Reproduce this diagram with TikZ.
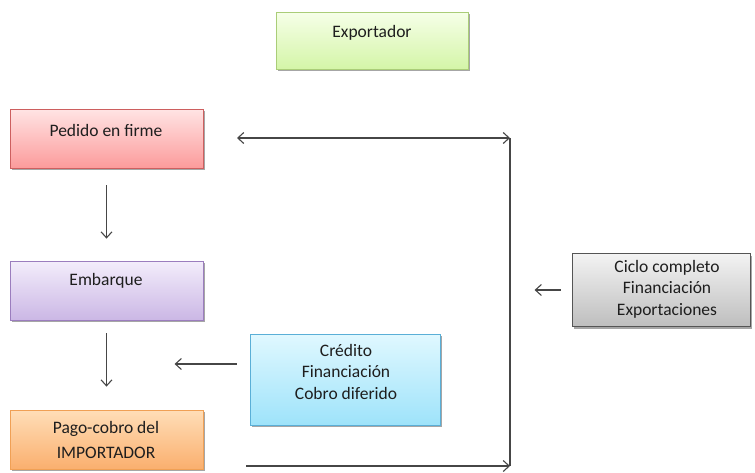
\documentclass[tikz,border=0pt]{standalone}
\usepackage{fontspec}
\setmainfont{Carlito}
\usetikzlibrary{arrows.meta,shadows}

\definecolor{edgegray}{RGB}{85,85,85}
\definecolor{arrowgray}{RGB}{70,70,70}

\tikzset{
  box/.style={draw, line width=0.8pt, inner sep=0pt, shading=axis, shading angle=0,
    drop shadow={shadow xshift=1.5pt, shadow yshift=-2pt, opacity=0.35, fill=black}},
  greenbox/.style={box, draw={rgb,255:red,170;green,205;blue,120},
    top color={rgb,255:red,246;green,255;blue,232}, bottom color={rgb,255:red,212;green,245;blue,168}},
  pinkbox/.style={box, draw={rgb,255:red,205;green,95;blue,95},
    top color={rgb,255:red,255;green,228;blue,228}, bottom color={rgb,255:red,252;green,155;blue,155}},
  purplebox/.style={box, draw={rgb,255:red,155;green,125;blue,190},
    top color={rgb,255:red,243;green,237;blue,251}, bottom color={rgb,255:red,203;green,183;blue,229}},
  orangebox/.style={box, draw={rgb,255:red,240;green,160;blue,85},
    top color={rgb,255:red,255;green,222;blue,184}, bottom color={rgb,255:red,250;green,175;blue,110}},
  cyanbox/.style={box, draw={rgb,255:red,90;green,175;blue,215},
    top color={rgb,255:red,224;green,248;blue,255}, bottom color={rgb,255:red,158;green,227;blue,250}},
  graybox/.style={box, draw=edgegray,
    top color={rgb,255:red,243;green,243;blue,243}, bottom color={rgb,255:red,190;green,190;blue,190}},
  lbl/.style={inner sep=0pt, align=center, anchor=base, text={rgb,255:red,30;green,30;blue,30},
    font=\fontsize{17.5}{21.5}\selectfont},
  arr/.style={draw=arrowgray, line width=1.1pt, -{Straight Barb[length=6pt,width=11pt,line width=1.1pt]}},
  link/.style={draw=arrowgray, line width=1.1pt},
}

\begin{document}
\begin{tikzpicture}[x=1pt,y=-1pt]
\useasboundingbox[fill=white] (0,0) rectangle (755,472);

% boxes
\node[greenbox,  minimum width=192pt, minimum height=57pt] (exp) at (372,40.5) {};
\node[pinkbox,   minimum width=193pt, minimum height=59pt] (ped) at (106.5,138.5) {};
\node[purplebox, minimum width=193pt, minimum height=59pt] (emb) at (106.5,290.5) {};
\node[orangebox, minimum width=193pt, minimum height=59pt] (pag) at (106.5,439.5) {};
\node[cyanbox,   minimum width=190pt, minimum height=91pt] (cre) at (345,379.5) {};
\node[graybox,   minimum width=178pt, minimum height=73pt] (cic) at (661,290) {};

% box texts (anchored at the baseline of the last line)
\node[lbl] (exptxt) at (372,37) {Exportador};
\node[lbl] (pedtxt) at (106,136) {Pedido en firme};
\node[lbl] (embtxt) at (106,285) {Embarque};
\node[lbl] (pagtxt) at (106,458) {Pago-cobro del\\[3pt]IMPORTADOR};
\node[lbl] (cretxt) at (346,399) {Crédito\\Financiación\\Cobro diferido};
\node[lbl] (cictxt) at (667,315) {Ciclo completo\\Financiación\\Exportaciones};

% flow arrows
\draw[arr] ([yshift=-17pt]ped.south) -- ([yshift=22pt]emb.north);
\draw[arr] ([yshift=-13pt]emb.south) -- ([yshift=23pt]pag.north);
\draw[arr] ([xshift=-13pt,yshift=15.5pt]cre.west) -- ([xshift=-75pt,yshift=15.5pt]cre.west);
\draw[arr] ([xshift=-11pt]cic.west) -- ([xshift=-37pt]cic.west);

% cycle connector
\coordinate (topL) at (237,138);
\coordinate (topR) at (510,138);
\coordinate (botL) at (246,466);
\coordinate (botR) at (510,466);
\draw[link, {Straight Barb[length=6pt,width=11pt,line width=1.1pt]}-{Straight Barb[length=6pt,width=11pt,line width=1.1pt]}] (topL) -- (topR);
\draw[link] (topR) -- (botR);
\draw[arr] (botL) -- (botR);
\end{tikzpicture}
\end{document}
